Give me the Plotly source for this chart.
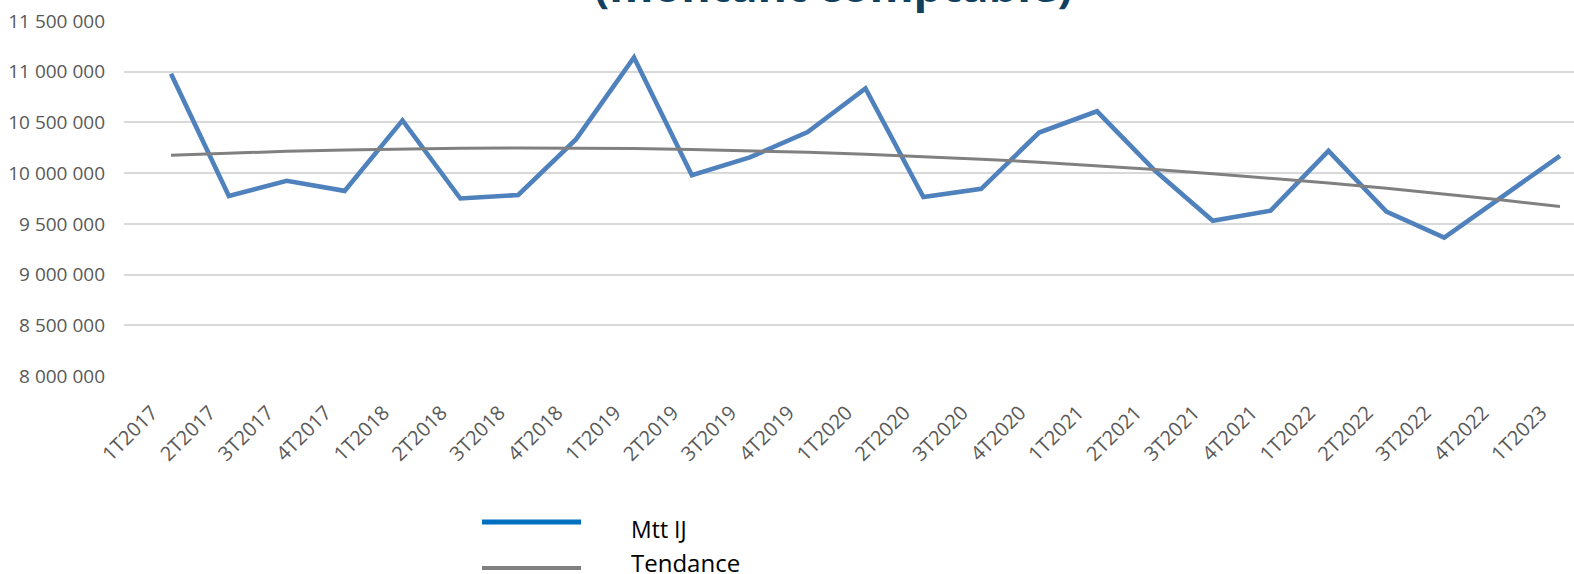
import plotly.graph_objects as go

categories = ["1T2017", "2T2017", "3T2017", "4T2017", "1T2018", "2T2018", "3T2018", "4T2018",
              "1T2019", "2T2019", "3T2019", "4T2019", "1T2020", "2T2020", "3T2020", "4T2020",
              "1T2021", "2T2021", "3T2021", "4T2021", "1T2022", "2T2022", "3T2022", "4T2022",
              "1T2023"]

mtt_ij = [10980000, 9775000, 9925000, 9825000, 10520000, 9750000, 9785000, 10335000,
          11140000, 9980000, 10155000, 10405000, 10835000, 9765000, 9845000, 10400000,
          10610000, 10025000, 9530000, 9630000, 10220000, 9620000, 9365000, 9765000,
          10170000]

tendance = [10177000, 10198000, 10215000, 10229000, 10239000, 10245000, 10248000, 10247000,
            10242000, 10234000, 10222000, 10206000, 10187000, 10164000, 10138000, 10108000,
            10074000, 10036000, 9995000, 9950000, 9902000, 9850000, 9794000, 9735000,
            9670000]

y_ticks = [8000000, 8500000, 9000000, 9500000, 10000000, 10500000, 11000000, 11500000]

series_names = ["Mtt IJ", "Tendance"]
title_text = "(montant comptable)"

W, H = 1574, 574
L, R, T, B = 124, 0, 21, 198
pw = W - L - R
ph = H - T - B

def px_x(px):
    return (px - L) / pw

def px_y(py):
    return (H - B - py) / ph

FONT = "Open Sans"
TICK_COLOR = "#595959"

fig = go.Figure()
fig.add_trace(go.Scatter(x=categories, y=mtt_ij, mode="lines", name=series_names[0],
                         line=dict(color="#4F81BD", width=4.6), showlegend=False))
fig.add_trace(go.Scatter(x=categories, y=tendance, mode="lines", name=series_names[1],
                         line=dict(color="#808080", width=3), showlegend=False))

# legend drawn manually (long line samples as in the reference)
shapes = [
    dict(type="line", xref="paper", yref="paper", x0=px_x(482), x1=px_x(581),
         y0=px_y(522), y1=px_y(522), line=dict(color="#0070C0", width=5)),
    dict(type="line", xref="paper", yref="paper", x0=px_x(482), x1=px_x(581),
         y0=px_y(568), y1=px_y(568), line=dict(color="#808080", width=4)),
]
annotations = [
    dict(text=series_names[0], xref="paper", yref="paper", x=px_x(629), y=px_y(529),
         xanchor="left", yanchor="middle", showarrow=False,
         font=dict(family=FONT, size=23, color="#000000")),
    dict(text=series_names[1], xref="paper", yref="paper", x=px_x(629), y=px_y(562),
         xanchor="left", yanchor="middle", showarrow=False,
         font=dict(family=FONT, size=24, color="#000000")),
    dict(text="<b>" + title_text + "</b>", xref="paper", yref="paper", x=px_x(833), y=px_y(17),
         xanchor="center", yanchor="bottom", showarrow=False,
         font=dict(family=FONT, size=45, color="#113F5E")),
]

fig.update_layout(
    width=W, height=H,
    margin=dict(l=L, r=R, t=T, b=B, pad=0),
    paper_bgcolor="white", plot_bgcolor="white",
    separators=", ",
    shapes=shapes, annotations=annotations,
    showlegend=False,
    font=dict(family=FONT, color=TICK_COLOR),
)
fig.update_yaxes(range=[8000000, 11500000], tickvals=y_ticks, tickformat=",d",
                 showgrid=True, gridcolor="#D9D9D9", gridwidth=1.5, zeroline=False,
                 showline=False, ticks="", ticklabelstandoff=18,
                 tickfont=dict(family=FONT, size=19, color=TICK_COLOR))
fig.update_xaxes(type="category", range=[-0.812, 24.242], showgrid=False, zeroline=False,
                 showline=False, ticks="", tickangle=-45, ticklabelstandoff=20,
                 ticklabelshift=-19,
                 tickfont=dict(family=FONT, size=20, color=TICK_COLOR))

fig.write_html("out.html", config={"displayModeBar": False},
               post_script="document.body.style.margin='0';document.body.style.overflow='hidden';")
